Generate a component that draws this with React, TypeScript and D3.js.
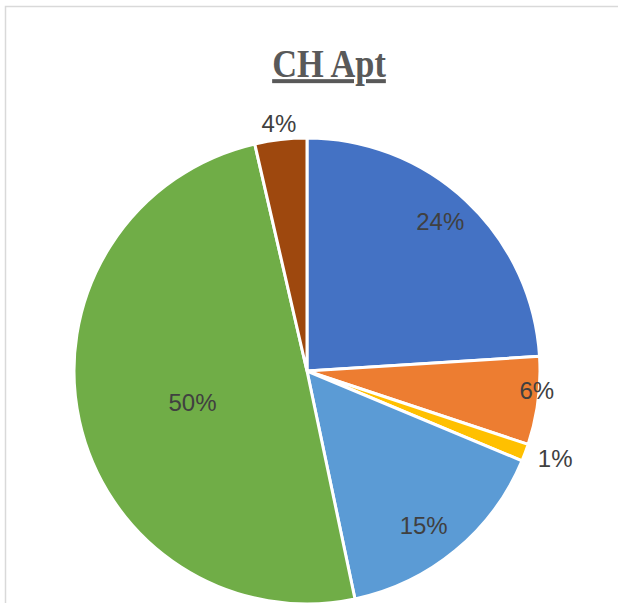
import React from "react";
import * as d3 from "d3";

const categories = ["A", "B", "C", "D", "E", "F"];
const values = [24.0, 6.1, 1.2, 15.4, 49.7, 3.6];
const labels = ["24%", "6%", "1%", "15%", "50%", "4%"];
const colors = ["#4472C4", "#ED7D31", "#FFC000", "#5B9BD5", "#70AD47", "#9E480E"];
const labelRadiusFactor = [0.86, 0.99, 1.13, 0.83, 0.51, 1.07];
const labelAngleShift = [-1.5, -2.5, -1, 2.5, -3, 0];

const W = 618;
const H = 603;
const cx = 307;
const cy = 371;
const R = 233;

export default function App() {
  const pie = d3
    .pie<number>()
    .sort(null)
    .value((d) => d);
  const arcs = pie(values);
  const arc = d3.arc<d3.PieArcDatum<number>>().innerRadius(0).outerRadius(R);

  return (
    <svg
      width={W}
      height={H}
      style={{ position: "absolute", left: 0, top: 0, display: "block", background: "#fff" }}
    >
      <rect x={5.5} y={6.5} width={W + 20} height={H + 20} fill="#fff" stroke="#d9d9d9" strokeWidth={1.5} />
      <g transform="translate(329,77) scale(0.86,1)">
        <text
          x={0}
          y={0}
          textAnchor="middle"
          fontFamily="'Liberation Serif', 'Times New Roman', serif"
          fontWeight="bold"
          fontSize={40}
          fill="#595959"
          textDecoration="underline"
        >
          CH Apt
        </text>
      </g>
      <g transform={`translate(${cx},${cy})`}>
        {arcs.map((a, i) => (
          <path key={categories[i]} d={arc(a) || ""} fill={colors[i]} stroke="#fff" strokeWidth={3} strokeLinejoin="round" />
        ))}
        {arcs.map((a, i) => {
          const mid = (a.startAngle + a.endAngle) / 2 + (labelAngleShift[i] * Math.PI) / 180;
          const r = R * labelRadiusFactor[i];
          const x = Math.sin(mid) * r;
          const y = -Math.cos(mid) * r;
          return (
            <text
              key={"l" + categories[i]}
              x={x}
              y={y}
              textAnchor="middle"
              dominantBaseline="central"
              fontFamily="'Liberation Sans', Arial, sans-serif"
              fontSize={24}
              fill="#404040"
            >
              {labels[i]}
            </text>
          );
        })}
      </g>
    </svg>
  );
}
